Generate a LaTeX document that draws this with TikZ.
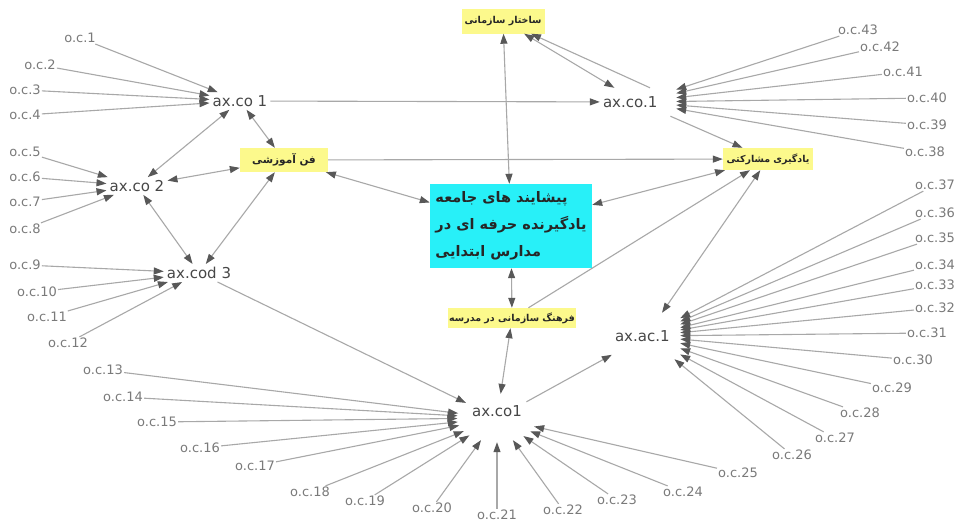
\documentclass[tikz,border=0pt]{standalone}
\usepackage{fontspec}
\usetikzlibrary{arrows.meta,shapes.geometric}
\TeXXeTstate=1
\newfontfamily\arfont[Script=Arabic]{DejaVu Sans}
\newfontfamily\labfont{DejaVu Sans}
\definecolor{yboxc}{RGB}{252,249,140}
\definecolor{cyanc}{RGB}{40,240,248}
\definecolor{linegray}{RGB}{168,168,168}
\definecolor{tipgray}{RGB}{88,88,88}
\tikzset{
  tipc/.tip={Triangle[length=10pt,width=7pt,color=tipgray]},
  lab/.style={font=\labfont\fontsize{13}{13}\selectfont, text=black!52, inner sep=1pt},
  hub/.style={font=\labfont\fontsize{15}{15}\selectfont, text=black!72, inner sep=3pt},
  ybox/.style={fill=yboxc, font=\arfont\bfseries\fontsize{9.5}{9.5}\selectfont, text=black!85, inner sep=0pt},
  cbox/.style={fill=cyanc, font=\arfont\bfseries\fontsize{14.5}{27}\selectfont, text=black!85, align=left, inner sep=0pt, minimum width=162pt, minimum height=84pt},
  con/.style={draw=linegray, line width=1.1pt, -tipc},
  bi/.style={draw=linegray, line width=1.1pt, tipc-tipc},
}
\begin{document}
\begin{tikzpicture}[x=1pt,y=-1pt]
\fill[white] (0,0) rectangle (966,523);
\useasboundingbox (0,0) rectangle (966,523);

% main boxes
\node[ybox, minimum width=83pt, minimum height=25pt] (top) at (503,21) {\beginR ساختار سازمانی\endR};
\node[ybox, minimum width=88pt, minimum height=24pt, font=\arfont\bfseries\fontsize{10.5}{10.5}\selectfont] (lefty) at (284,160) {\beginR فن آموزشی\endR};
\node[ybox, minimum width=90pt, minimum height=22pt] (righty) at (768,159) {\beginR یادگیری مشارکتی\endR};
\node[ybox, minimum width=128pt, minimum height=20pt] (boty) at (512,318) {\beginR فرهنگ سازمانی در مدرسه\endR};
\node[cbox] (ctr) at (511,226) {\beginR پیشایند های جامعه\endR\\\beginR یادگیرنده حرفه ای در\endR\\\beginR مدارس ابتدایی\endR};

% hubs
\node[hub] (h1) at (240,101) {ax.co 1};
\node[hub] (h2) at (137,186) {ax.co 2};
\node[hub] (h3) at (199,273) {ax.cod 3};
\node[hub, ellipse, minimum width=74pt, minimum height=48pt, text depth=12pt, text height=9pt] (h4) at (497,418) {ax.co1};
\node[hub, text width=62pt, align=left, minimum height=46pt] (h5) at (646,336) {ax.ac.1};
\node[hub, text width=70pt, align=left, minimum height=28pt] (h6) at (638,102) {ax.co.1};

% outer labels
\foreach \n/\x/\y in {1/80/38, 2/40/65, 3/25/90, 4/25/115, 5/25/152, 6/25/177, 7/25/202, 8/25/229,
  9/25/265, 10/37/292, 11/47/317, 12/68/343, 13/103/370, 14/123/397, 15/157/422, 16/200/448,
  17/255/466, 18/310/492, 19/365/501, 20/432/508, 21/497/515, 22/563/510, 23/617/500, 24/683/492,
  25/738/473, 26/792/455, 27/835/438, 28/860/413, 29/892/388, 30/913/360, 31/927/333, 32/935/308,
  33/935/285, 34/935/265, 35/935/238, 36/935/213, 37/935/185, 38/925/152, 39/927/125, 40/927/98,
  41/903/72, 42/880/47, 43/858/30}
  \node[lab] (oc\n) at (\x,\y) {o.c.\n};

\foreach \n in {1,...,4} \draw[con] (oc\n) -- (h1);
\foreach \n in {5,...,8} \draw[con] (oc\n) -- (h2);
\foreach \n in {9,...,12} \draw[con] (oc\n) -- (h3);
\foreach \n in {13,...,25} \draw[con] (oc\n) -- (h4);
\foreach \n in {26,...,37} \draw[con] (oc\n) -- (h5);
\foreach \n in {38,...,43} \draw[con] (oc\n) -- (h6);

% links between hubs and boxes
\draw[con] (h1) -- (h6);
\draw[bi] (h1) -- (h2);
\draw[bi] (h1) -- (lefty);
\draw[bi] (h2) -- (lefty);
\draw[bi] (h2) -- (h3);
\draw[bi] (h3) -- (lefty);
\draw[con] (lefty) -- (righty);
\draw[bi] (lefty) -- (ctr);
\draw[bi] (top) -- (ctr);
\draw[bi] (top) -- (h6);
\draw[con] ([xshift=12pt]h6.north) -- (top);
\draw[con] (h6) -- (righty);
\draw[bi] (ctr) -- (righty);
\draw[con] (boty) -- (righty);
\draw[bi] (h5) -- (righty);
\draw[bi] (ctr) -- (boty);
\draw[bi] (boty) -- (h4);
\draw[con] (h3) -- (h4);
\draw[con] (h4) -- (h5);
\end{tikzpicture}
\end{document}
